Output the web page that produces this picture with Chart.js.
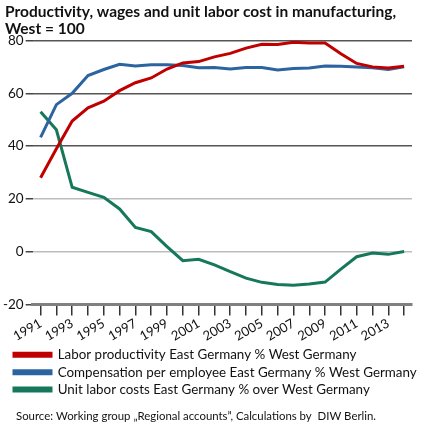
<!DOCTYPE html>
<html>
<head>
<meta charset="utf-8">
<script src="https://cdn.jsdelivr.net/npm/chart.js@4.4.1/dist/chart.umd.min.js"></script>
<style>
  body { margin: 0; background: #fff; }
  #wrap { width: 426px; height: 427px; position: relative; }
</style>
</head>
<body>
<div id="wrap"><canvas id="chart"></canvas></div>
<script>
// years on the x axis
const years = ['1991','1992','1993','1994','1995','1996','1997','1998','1999','2000','2001','2002',
  '2003','2004','2005','2006','2007','2008','2009','2010','2011','2012','2013','2014'];

// East Germany in % of West Germany
const productivity = [28, 39, 49.5, 54.5, 57, 61, 64, 65.8, 69.2, 71.5, 72, 73.8,
  75.1, 77.1, 78.6, 78.5, 79.3, 79, 79, 75, 71.3, 70, 69.6, 70.2];
const compensation = [43.3, 55.7, 60, 66.7, 69, 71, 70.3, 70.8, 70.8, 70.5, 69.7, 69.8,
  69.2, 69.8, 69.8, 68.8, 69.4, 69.6, 70.3, 70.2, 70, 69.7, 69, 70];
const unitLaborCost = [53, 46.2, 24.4, 22.5, 20.6, 16.2, 9.2, 7.6, 1.9, -3.4, -2.9, -5,
  -7.5, -10, -11.6, -12.4, -12.7, -12.2, -11.5, -6.6, -1.9, -0.5, -1, 0.1];

const yTicks = [-20, 0, 20, 40, 60, 80];

const seriesNames = [
  'Labor productivity East Germany % West Germany',
  'Compensation per employee East Germany % West Germany',
  'Unit labor costs East Germany % over West Germany'
];
const seriesColors = ['#c00000', '#2c64a0', '#16785a'];
const sourceText = 'Source: Working group \u201eRegional accounts\u201d, Calculations by  DIW Berlin.';

const fontFam = 'Lato, "Open Sans", sans-serif';

// nudge title, legend and source line to the right like in the original
const indentPlugin = {
  id: 'indent',
  afterLayout(chart) {
    chart.boxes.forEach(b => {
      if (b === chart.titleBlock) { b.left += 4; b.right += 4; }
      else if (b === chart.legend) { b.left += 9; b.right += 9; }
      else if (b.options && b.options.text === sourceText) { b.left += 15; b.right += 15; }
    });
  }
};

const ctx = document.getElementById('chart').getContext('2d');
new Chart(ctx, {
  type: 'line',
  data: {
    labels: years,
    datasets: [productivity, compensation, unitLaborCost].map((d, i) => ({
      label: seriesNames[i],
      data: d,
      borderColor: seriesColors[i],
      backgroundColor: seriesColors[i],
      borderWidth: 3,
      pointRadius: 0,
      tension: 0
    }))
  },
  plugins: [indentPlugin],
  options: {
    responsive: true,
    maintainAspectRatio: false,
    animation: false,
    layout: { padding: { left: 1, right: 14, top: 0, bottom: 4 } },
    plugins: {
      title: {
        display: true,
        text: ['Productivity, wages and unit labor cost in manufacturing,', 'West = 100'],
        align: 'start',
        color: '#111',
        font: { family: fontFam, size: 15.5, weight: 'bold', lineHeight: 1.08 },
        padding: { top: 4, bottom: 3 }
      },
      subtitle: {
        display: true,
        position: 'bottom',
        align: 'start',
        text: sourceText,
        color: '#111',
        font: { family: fontFam, size: 11.4 },
        padding: { top: 3, bottom: 0 }
      },
      legend: {
        position: 'bottom',
        align: 'start',
        labels: {
          boxWidth: 37,
          boxHeight: 3,
          padding: 4,
          color: '#111',
          font: { family: fontFam, size: 13.4 }
        }
      },
      tooltip: { enabled: false }
    },
    scales: {
      x: {
        offset: true,
        grid: {
          drawOnChartArea: false,
          drawTicks: true,
          tickLength: 11,
          color: '#333',
          lineWidth: 1.5
        },
        border: { display: true, color: '#808080', width: 3 },
        ticks: {
          autoSkip: false,
          maxRotation: 30,
          minRotation: 30,
          padding: 0,
          color: '#111',
          font: { family: fontFam, size: 13 },
          callback: function (v, i) { return i % 2 === 0 ? years[i] : ''; }
        }
      },
      y: {
        min: -20,
        max: 80,
        afterBuildTicks: function (axis) { axis.ticks = yTicks.map(v => ({ value: v })); },
        grid: {
          color: function (c) { return c.tick && c.tick.value >= 40 ? '#555' : '#bdbdbd'; },
          lineWidth: 1.5,
          tickLength: 7,
          tickColor: '#444'
        },
        border: { display: false },
        ticks: {
          color: '#111',
          padding: 2,
          font: { family: fontFam, size: 13.5 }
        }
      }
    }
  }
});
</script>
</body>
</html>
